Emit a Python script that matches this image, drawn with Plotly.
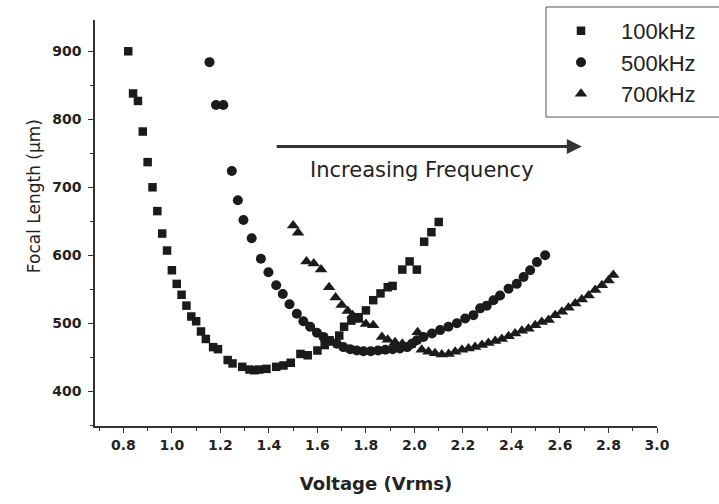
import plotly.graph_objects as go

# Focal length (µm) versus drive voltage (Vrms) at three drive frequencies
v_100k = [0.82, 0.84, 0.86, 0.88, 0.90, 0.92, 0.94, 0.96, 0.98, 1.00,
          1.02, 1.04, 1.06, 1.08, 1.10, 1.12, 1.14, 1.17, 1.19, 1.23,
          1.25, 1.29, 1.32, 1.34, 1.36, 1.39, 1.43, 1.46, 1.49, 1.53,
          1.56, 1.60, 1.63, 1.65, 1.69, 1.71, 1.74, 1.77, 1.80, 1.83,
          1.86, 1.89, 1.91, 1.95, 1.98, 2.01, 2.04, 2.07, 2.10]
f_100k = [900, 838, 827, 782, 737, 700, 665, 632, 607, 578,
          558, 542, 526, 510, 503, 488, 477, 465, 462, 446,
          441, 436, 432, 431, 432, 433, 436, 438, 442, 455,
          453, 460, 468, 475, 482, 495, 504, 509, 519, 534,
          544, 553, 555, 579, 591, 579, 620, 634, 649]

v_500k = [1.155, 1.182, 1.212, 1.247, 1.272, 1.295, 1.329, 1.367, 1.398, 1.430,
          1.457, 1.485, 1.515, 1.542, 1.570, 1.598, 1.625, 1.652, 1.680, 1.707,
          1.735, 1.762, 1.790, 1.820, 1.850, 1.880, 1.910, 1.940, 1.970, 1.990,
          2.010, 2.037, 2.072, 2.106, 2.140, 2.175, 2.209, 2.243, 2.271, 2.298,
          2.326, 2.353, 2.388, 2.422, 2.450, 2.477, 2.505, 2.539]
f_500k = [884, 821, 821, 724, 681, 652, 625, 595, 575, 556,
          543, 528, 514, 503, 495, 486, 480, 474, 470, 465,
          462, 460, 459, 459, 460, 461, 462, 463, 465, 470,
          475, 480, 485, 490, 495, 500, 507, 512, 522, 526,
          534, 541, 551, 558, 568, 578, 590, 600]

v_700k = [1.500, 1.520, 1.555, 1.585, 1.615, 1.648, 1.675, 1.700, 1.725, 1.745,
          1.770, 1.800, 1.830, 1.866, 1.890, 1.920, 1.950, 1.980, 2.013, 2.030,
          2.058, 2.085, 2.113, 2.141, 2.168, 2.196, 2.223, 2.250, 2.278, 2.305,
          2.333, 2.360, 2.388, 2.415, 2.443, 2.470, 2.498, 2.525, 2.553, 2.580,
          2.608, 2.635, 2.663, 2.690, 2.718, 2.745, 2.773, 2.800, 2.820]
f_700k = [644, 633, 591, 588, 579, 553, 538, 527, 518, 512,
          505, 499, 497, 480, 476, 472, 470, 468, 487, 461,
          458, 456, 454, 455, 458, 461, 463, 465, 468, 471,
          474, 477, 481, 485, 489, 492, 497, 502, 505, 512,
          517, 523, 529, 535, 541, 549, 556, 563, 571]

series = [
    ("100kHz", v_100k, f_100k, "square", 8.5),
    ("500kHz", v_500k, f_500k, "circle", 10),
    ("700kHz", v_700k, f_700k, "triangle-up", 11),
]

x_ticks = [0.8, 1.0, 1.2, 1.4, 1.6, 1.8, 2.0, 2.2, 2.4, 2.6, 2.8, 3.0]
y_ticks = [400, 500, 600, 700, 800, 900]

INK = "#1b1b1b"
TEXT = "#232323"
SANS = "Liberation Sans, Arial, sans-serif"
WIDE = "DejaVu Sans, sans-serif"

fig = go.Figure()
for name, xs, ys, sym, size in series:
    fig.add_trace(go.Scatter(
        x=xs, y=ys, mode="markers", name=name,
        marker=dict(symbol=sym, size=size, color=INK, line=dict(width=0)),
    ))

axis_common = dict(
    showline=True, linecolor="#333333", linewidth=1.5,
    ticks="outside", ticklen=5, tickwidth=1.2, tickcolor="#333333",
    showgrid=False, zeroline=False, mirror=False,
    tickfont=dict(family=WIDE, size=14, color=TEXT, weight="bold"),
)

fig.update_xaxes(
    range=[0.683, 3.0], tickvals=x_ticks, ticktext=[f"{t:.1f}" for t in x_ticks],
    minor=dict(ticks="outside", ticklen=3, dtick=0.1, tick0=0.8, tickcolor="#333333"),
    title=dict(text="Voltage (Vrms)", font=dict(family=WIDE, size=18, color=TEXT, weight="bold"),
               standoff=26),
    **axis_common,
)
fig.update_yaxes(
    range=[349, 946], tickvals=y_ticks,
    minor=dict(ticks="outside", ticklen=3, dtick=50, tick0=400, tickcolor="#333333"),
    ticklabelstandoff=4,
    **axis_common,
)

# Vertical axis title, set slightly above the plot's middle
fig.add_annotation(
    x=-0.13, y=0.566, xref="paper", yref="paper", text="Focal Length (µm)",
    textangle=-90, showarrow=False, font=dict(family=WIDE, size=17, color=TEXT),
)

# Direction arrow with its caption
fig.add_annotation(
    x=2.69, y=760, ax=1.426, ay=760, xref="x", yref="y", axref="x", ayref="y",
    text="", showarrow=True, arrowhead=2, arrowsize=1.0, arrowwidth=3, arrowcolor="#333333",
)
fig.add_annotation(
    x=2.03, y=726, xref="x", yref="y", text="Increasing Frequency", showarrow=False,
    font=dict(family=WIDE, size=21, color=TEXT),
)

# Legend frame, running off the right edge
fig.add_shape(
    type="rect", xref="paper", yref="paper", x0=0.8025, x1=1.13, y0=0.761, y1=1.032,
    line=dict(color="#555555", width=1), fillcolor="rgba(0,0,0,0)", layer="below",
)

fig.update_layout(
    width=719, height=504,
    margin=dict(l=95, r=62, t=20, b=78, autoexpand=False),
    paper_bgcolor="white", plot_bgcolor="white",
    showlegend=True,
    legend=dict(
        x=0.7936, y=1.025, xanchor="left", yanchor="top",
        borderwidth=0, bgcolor="rgba(0,0,0,0)",
        font=dict(family=SANS, size=22, color=TEXT),
        itemwidth=70, tracegroupgap=4,
    ),
)

fig.write_html("out.html")
